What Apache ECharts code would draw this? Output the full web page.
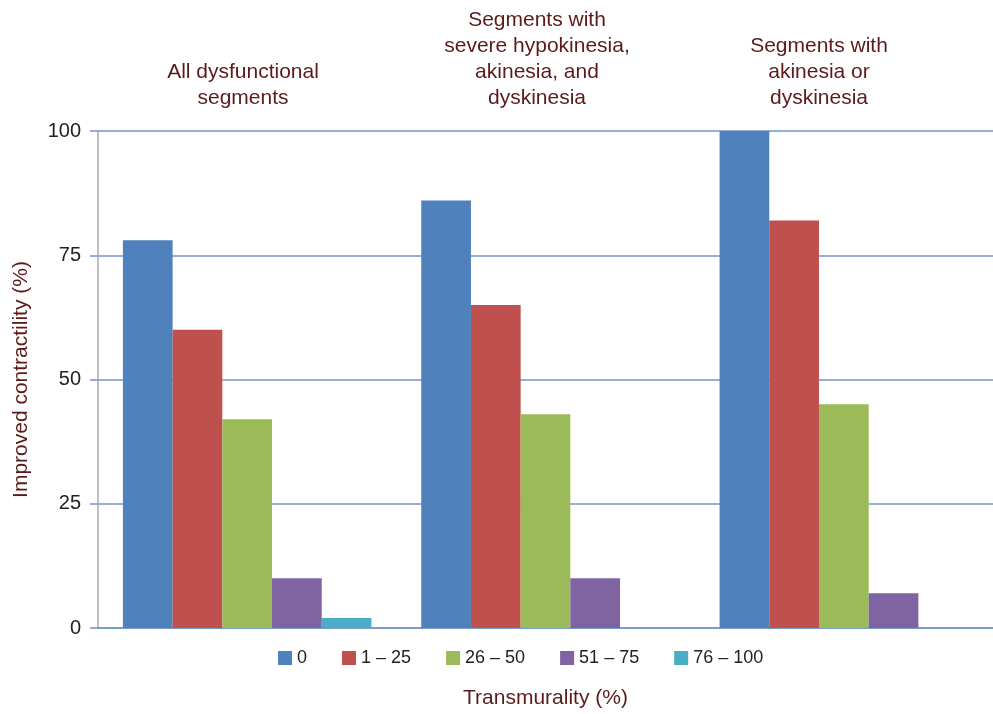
<!DOCTYPE html>
<html>
<head>
<meta charset="utf-8">
<script src="https://cdn.jsdelivr.net/npm/echarts@6/dist/echarts.min.js"></script>
<style>
html,body{margin:0;padding:0;background:#fff;overflow:hidden;width:100%;height:100%;}
#chart{width:100%;height:100%;}
</style>
</head>
<body>
<div id="chart"></div>
<script>
// ---- data ----
var categories = ['All dysfunctional segments', 'Segments with severe hypokinesia, akinesia, and dyskinesia', 'Segments with akinesia or dyskinesia'];
var groupTitles = ['All dysfunctional\nsegments', 'Segments with\nsevere hypokinesia,\nakinesia, and\ndyskinesia', 'Segments with\nakinesia or\ndyskinesia'];
var seriesNames = ['0', '1 \u2013 25', '26 \u2013 50', '51 \u2013 75', '76 \u2013 100'];
var trans0 = [78, 86, 100];
var trans1to25 = [60, 65, 82];
var trans26to50 = [42, 43, 45];
var trans51to75 = [10, 10, 7];
var trans76to100 = [2, 0, 0];
var yTicks = [0, 25, 50, 75, 100];

var seriesValues = [trans0, trans1to25, trans26to50, trans51to75, trans76to100];
var colors = ['#4f81bd', '#c0504d', '#9bbb59', '#8064a2', '#4bacc6'];
var FONT = '"Liberation Sans", Arial, Helvetica, sans-serif';
var TITLE_COLOR = '#5c1a1a';

var chart = echarts.init(document.getElementById('chart'), null, {renderer: 'canvas'});

// group-title positions (pixel layout only)
var titlePos = [[243, 59], [537, 7], [819, 33]];

var option = {
  animation: false,
  backgroundColor: '#ffffff',
  color: colors,
  grid: {left: 98, right: -5, top: 131, bottom: 81, containLabel: false},
  legend: {
    data: seriesNames,
    left: 273,
    top: 644,
    itemWidth: 14,
    itemHeight: 14,
    itemGap: 35,
    icon: 'rect',
    textStyle: {fontFamily: FONT, fontSize: 18, color: '#222222'}
  },
  xAxis: {
    type: 'category',
    data: categories,
    name: 'Transmurality (%)',
    nameLocation: 'middle',
    nameGap: 60,
    nameTextStyle: {fontFamily: FONT, fontSize: 21, color: TITLE_COLOR},
    axisLine: {show: true, lineStyle: {color: '#7096cc', width: 1.5}},
    axisTick: {show: false},
    axisLabel: {show: false}
  },
  yAxis: {
    type: 'value',
    min: yTicks[0],
    max: yTicks[yTicks.length - 1],
    interval: 25,
    name: 'Improved contractility (%)',
    nameLocation: 'middle',
    nameGap: 66,
    nameTextStyle: {fontFamily: FONT, fontSize: 21, color: TITLE_COLOR},
    axisLine: {show: true, lineStyle: {color: '#aaaaaa', width: 1.5}},
    axisTick: {show: true, length: 8, lineStyle: {color: '#7096cc', width: 1.5}},
    axisLabel: {fontFamily: FONT, fontSize: 20, color: '#222222', margin: 17},
    splitLine: {show: true, lineStyle: {color: '#7096cc', width: 1.5}}
  },
  graphic: groupTitles.map(function (t, i) {
    return {
      type: 'text',
      x: titlePos[i][0],
      y: titlePos[i][1],
      style: {
        text: t,
        textAlign: 'center',
        textVerticalAlign: 'top',
        fontFamily: FONT,
        fontSize: 21,
        lineHeight: 26,
        fill: TITLE_COLOR
      }
    };
  }),
  series: seriesNames.map(function (n, i) {
    return {
      name: n,
      type: 'bar',
      data: seriesValues[i],
      barGap: '0%',
      barCategoryGap: '16.7%',
      itemStyle: {color: colors[i]}
    };
  })
};
chart.setOption(option);
window.addEventListener('resize', function () { chart.resize(); });
</script>
</body>
</html>
